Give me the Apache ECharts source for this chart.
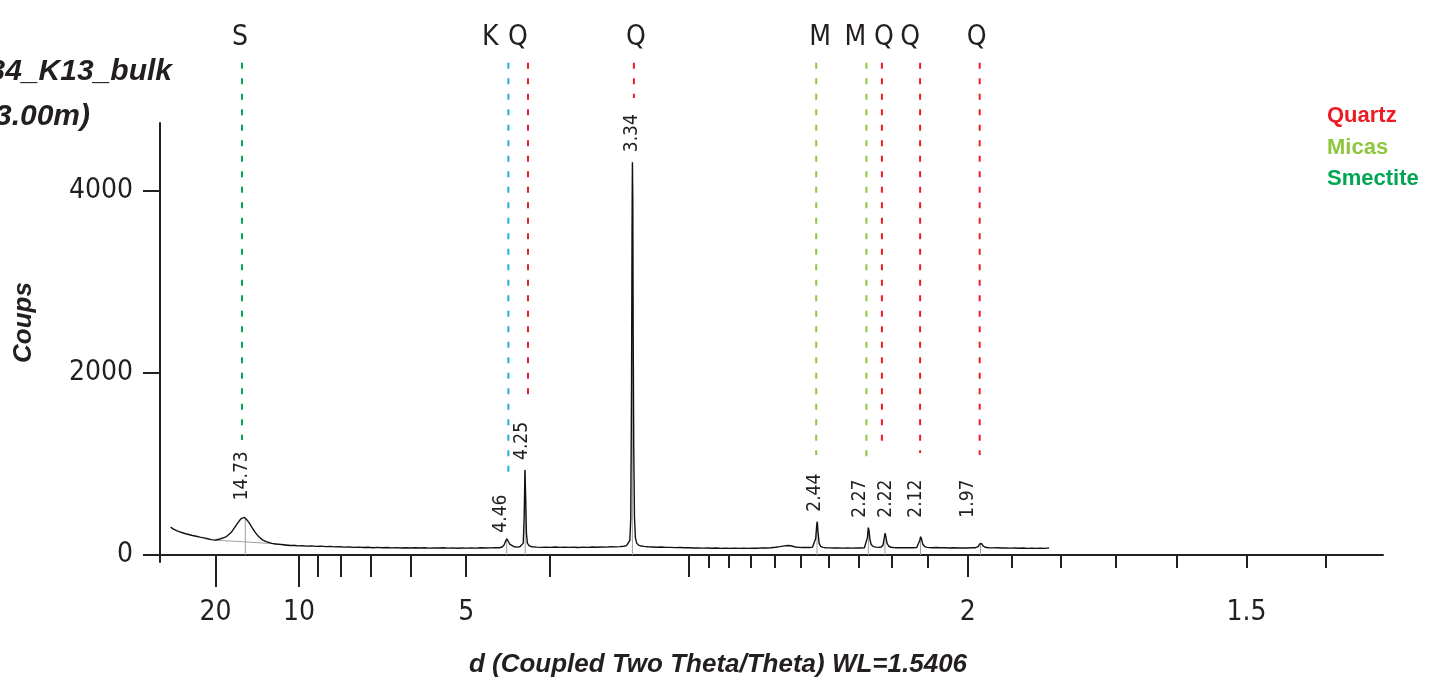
<!DOCTYPE html>
<html>
<head>
<meta charset="utf-8">
<title>K13 bulk</title>
<script src="https://cdn.jsdelivr.net/npm/echarts@6.0.0/dist/echarts.min.js"></script>
<style>
  html, body { margin: 0; padding: 0; background: #ffffff; }
  #chart { width: 1436px; height: 689px; }
</style>
</head>
<body>
<div id="chart"></div>
<script>
var WL = 1.5406; // Cu K-alpha

// ---- scan (2theta in degrees / counts) ----
var twoTheta = [
  2.05, 2.1, 2.2, 2.3, 2.4, 2.5, 2.6, 2.7, 2.8, 2.9,
  3.0, 3.1, 3.2, 3.3, 3.4, 3.5, 3.6, 3.7, 3.8, 3.9,
  4.0, 4.1, 4.2, 4.3, 4.4, 4.5, 4.6, 4.7, 4.8, 4.9,
  5.0, 5.1, 5.2, 5.3, 5.4, 5.5, 5.6, 5.7, 5.8, 5.9,
  5.95, 6.0, 6.1, 6.2, 6.3, 6.4, 6.5, 6.6, 6.7, 6.8,
  6.9, 7.0, 7.1, 7.2, 7.4, 7.6, 7.8, 8.0, 8.2, 8.4,
  8.6, 8.8, 9.0, 9.25, 9.5, 9.75, 10.0, 10.25, 10.5, 10.75,
  11.0, 11.25, 11.5, 11.75, 12.0, 12.25, 12.5, 12.75, 13.0, 13.25,
  13.5, 13.75, 14.0, 14.25, 14.5, 14.75, 15.0, 15.25, 15.5, 15.75,
  16.0, 16.25, 16.5, 16.75, 17.0, 17.25, 17.5, 17.75, 18.0, 18.25,
  18.5, 18.75, 19.0, 19.25, 19.5, 19.65, 19.75, 19.83, 19.9, 19.96,
  20.05, 20.15, 20.3, 20.45, 20.6, 20.7, 20.78, 20.83, 20.87, 20.91,
  20.95, 21.0, 21.1, 21.25, 21.5, 21.75, 22.0, 22.25, 22.5, 22.75,
  23.0, 23.25, 23.5, 23.75, 24.0, 24.25, 24.5, 24.75, 25.0, 25.25,
  25.5, 25.75, 26.0, 26.2, 26.35, 26.45, 26.53, 26.58, 26.62, 26.65,
  26.67, 26.69, 26.71, 26.74, 26.78, 26.83, 26.9, 27.0, 27.15, 27.3,
  27.5, 27.75, 28.0, 28.25, 28.5, 28.75, 29.0, 29.25, 29.5, 29.75,
  30.0, 30.25, 30.5, 30.75, 31.0, 31.25, 31.5, 31.75, 32.0, 32.25,
  32.5, 32.75, 33.0, 33.25, 33.5, 33.75, 34.0, 34.25, 34.5, 34.75,
  35.0, 35.2, 35.4, 35.6, 35.8, 36.0, 36.2, 36.4, 36.55, 36.65,
  36.73, 36.79, 36.82, 36.86, 36.92, 37.0, 37.15, 37.3, 37.5, 37.75,
  38.0, 38.25, 38.5, 38.75, 39.0, 39.25, 39.45, 39.55, 39.62, 39.67,
  39.71, 39.76, 39.83, 39.95, 40.1, 40.25, 40.4, 40.5, 40.57, 40.61,
  40.66, 40.72, 40.82, 40.95, 41.1, 41.3, 41.5, 41.75, 42.0, 42.2,
  42.4, 42.5, 42.57, 42.62, 42.67, 42.74, 42.85, 43.0, 43.25, 43.5,
  43.75, 44.0, 44.25, 44.5, 44.75, 45.0, 45.25, 45.5, 45.75, 45.9,
  45.98, 46.04, 46.1, 46.18, 46.3, 46.5, 46.75, 47.0, 47.25, 47.5,
  47.75, 48.0, 48.25, 48.5, 48.75, 49.0, 49.25, 49.5, 49.75, 50.0
];
var counts = [
  306, 300, 284, 277, 265, 258, 249, 240, 236, 228,
  225, 216, 214, 207, 205, 199, 196, 190, 188, 181,
  178, 171, 168, 161, 163, 166, 172, 178, 186, 192,
  202, 218, 238, 262, 292, 322, 352, 380, 402, 415,
  412, 402, 380, 352, 320, 285, 254, 226, 202, 182,
  166, 155, 146, 137, 128, 120, 116, 112, 107, 103,
  104, 100, 102, 97, 100, 95, 97, 92, 94, 89,
  91, 86, 88, 84, 86, 82, 85, 80, 83, 79,
  82, 78, 81, 77, 80, 76, 79, 76, 80, 75,
  78, 76, 79, 75, 78, 74, 77, 75, 78, 75,
  79, 76, 78, 80, 79, 88, 110, 150, 178, 160,
  120, 100, 90, 86, 90, 96, 130, 420, 933, 640,
  240, 130, 100, 90, 86, 84, 86, 83, 87, 84,
  86, 83, 85, 82, 86, 84, 87, 85, 88, 86,
  90, 89, 92, 96, 102, 115, 160, 400, 1800, 3600,
  4310, 3900, 2500, 1200, 420, 190, 130, 108, 98, 94,
  90, 88, 85, 87, 83, 84, 81, 82, 79, 80,
  77, 78, 75, 77, 74, 76, 73, 75, 72, 74,
  72, 74, 73, 75, 74, 78, 77, 80, 85, 92,
  100, 104, 98, 88, 84, 82, 84, 82, 86, 100,
  180, 330, 365, 250, 130, 95, 84, 80, 78, 76,
  78, 75, 77, 75, 78, 76, 80, 95, 190, 300,
  270, 170, 115, 92, 86, 84, 88, 110, 190, 238,
  200, 130, 96, 85, 82, 80, 81, 79, 80, 79,
  82, 95, 160, 200, 175, 120, 92, 84, 80, 82,
  79, 80, 77, 79, 76, 78, 76, 79, 80, 92,
  120, 138, 125, 100, 85, 80, 78, 79, 76, 78,
  75, 77, 74, 76, 73, 75, 72, 74, 73, 78
];

// fitted background under the 14.73 reflection
var bgTwoTheta = [4.4, 5.9, 7.4, 8.7];
var bgCounts = [162, 145, 125, 106];

// picked peaks (d in A / counts at top)
var peakD = [14.73, 4.46, 4.25, 3.34, 2.44, 2.27, 2.22, 2.12, 1.97];
var peakCounts = [414, 178, 933, 4310, 365, 300, 238, 200, 138];

// reference lines of the phases (d in A, letter, phase, counts where the dashes stop)
var refD = [15.17, 4.44, 4.22, 3.33, 2.443, 2.276, 2.229, 2.121, 1.972];
var refMark = ['S', 'K', 'Q', 'Q', 'M', 'M', 'Q', 'Q', 'Q'];
var refPhase = ['Smectite', 'Kaolinite', 'Quartz', 'Quartz', 'Micas', 'Micas', 'Quartz', 'Quartz', 'Quartz'];
var refEnd = [1262, 856, 1700, 5014, 1097, 1009, 1152, 1119, 1097];

// axis ticks (d in A)
var xLabelD = [20, 10, 5, 2, 1.5];
var bigTickD = [20, 10];
var midTickD = [9, 8, 7, 6, 5, 4, 3, 2];
var smallTickD = [2.9, 2.8, 2.7, 2.6, 2.5, 2.4, 2.3, 2.2, 2.1, 1.9, 1.8, 1.7, 1.6, 1.5, 1.4];
var yTicks = [0, 2000, 4000];

// ---------------------------------------------------------
var NARROW = "'Liberation Sans Narrow', 'Arial Narrow', 'DejaVu Sans Condensed', sans-serif";
var SANS = "'Liberation Sans', Arial, sans-serif";
var INK = '#231F20';
var phaseColor = { Quartz: '#ED1C24', Micas: '#8DC63F', Smectite: '#00A651', Kaolinite: '#27AAE1' };

// letter shift (px) against its dashed line, label shift for the peak values
var markShift = [-2, -18, -10, 2, 4, -11, 2, -10, -3];
var peakLabelDx = [-3, -6, -3, 0, -2, -8, 1, -4, -12];
var peakLabelGap = [17, -5, 10, 10, 10, 10, 10, 10, 10];
var LINE_TOP = 5400;
var X_MIN = (153 - 131.8) / 1672;
var X_MAX = (1383 - 131.8) / 1672;

// 2theta -> 1/d (the axis is linear in 1/d)
function inv(tt) { return 2 * Math.sin(tt / 2 * Math.PI / 180) / WL; }

var scan = twoTheta.map(function (t, i) { return [inv(t), counts[i]]; });
var bg = bgTwoTheta.map(function (t, i) { return [inv(t), bgCounts[i]]; });
function invList(arr) { return arr.map(function (d) { return 1 / d; }); }

function refSeries(phase) {
  var idx = [];
  refD.forEach(function (d, i) { if (refPhase[i] === phase) idx.push(i); });
  return {
    name: phase,
    type: 'custom',
    z: 4,
    itemStyle: { color: phaseColor[phase] },
    data: idx.map(function (i) { return [1 / refD[i], refEnd[i]]; }),
    renderItem: function (params, api) {
      var i = idx[params.dataIndex];
      var top = api.coord([api.value(0), LINE_TOP]);
      var end = api.coord([api.value(0), api.value(1)]);
      return {
        type: 'group',
        children: [{
          type: 'line',
          shape: { x1: top[0], y1: top[1], x2: end[0], y2: end[1] },
          style: { stroke: phaseColor[phase], lineWidth: 2, lineDash: [6, 9.5] }
        }, {
          type: 'text',
          x: top[0] + markShift[i],
          y: top[1] - 25,
          style: { text: refMark[i], fill: INK, font: '28px ' + NARROW, align: 'center', verticalAlign: 'middle' }
        }]
      };
    }
  };
}

// one x axis per tick length
function tickAxis(values, len) {
  return {
    type: 'value',
    position: 'bottom',
    min: X_MIN,
    max: X_MAX,
    offset: -7,
    axisLine: { show: false, onZero: false },
    axisTick: { customValues: invList(values), length: len, lineStyle: { color: INK, width: 2 } },
    axisLabel: { show: false },
    splitLine: { show: false }
  };
}

var chart = echarts.init(document.getElementById('chart'));

var option = {
  backgroundColor: '#ffffff',
  animation: false,
  grid: { left: 153, right: 53, top: 123, bottom: 127, containLabel: false },
  legend: {
    orient: 'vertical',
    left: 1317,
    top: 100,
    icon: 'none',
    itemWidth: 0,
    itemHeight: 14,
    itemGap: 9.5,
    selectedMode: false,
    textStyle: { fontSize: 22, fontWeight: 'bold', fontFamily: SANS, lineHeight: 22 },
    data: [
      { name: 'Quartz', textStyle: { color: phaseColor.Quartz } },
      { name: 'Micas', textStyle: { color: phaseColor.Micas } },
      { name: 'Smectite', textStyle: { color: phaseColor.Smectite } }
    ]
  },
  graphic: [
    { type: 'text', x: 172, y: 72, style: { text: '34_K13_bulk', fill: INK, font: 'italic bold 30px ' + SANS, align: 'right', verticalAlign: 'middle' } },
    { type: 'text', x: 90, y: 117, style: { text: '(3.00m)', fill: INK, font: 'italic bold 30px ' + SANS, align: 'right', verticalAlign: 'middle' } }
  ],
  xAxis: [{
    type: 'value',
    position: 'bottom',
    min: X_MIN,
    max: X_MAX,
    offset: -7,
    axisLine: { onZero: false, lineStyle: { color: INK, width: 2 } },
    axisTick: { customValues: invList(bigTickD), length: 32, lineStyle: { color: INK, width: 2 } },
    axisLabel: {
      customValues: invList(xLabelD),
      margin: 44,
      color: INK,
      fontSize: 28,
      fontFamily: NARROW,
      formatter: function (v) { return String(+(1 / v).toFixed(2)); }
    },
    splitLine: { show: false },
    name: 'd (Coupled Two Theta/Theta) WL=1.5406',
    nameLocation: 'middle',
    nameGap: 97,
    nameTextStyle: { color: INK, fontSize: 26, fontWeight: 'bold', fontStyle: 'italic', fontFamily: SANS, padding: [0, 100, 0, 0] }
  },
  tickAxis(midTickD, 22),
  tickAxis(smallTickD, 13)
  ],
  yAxis: {
    type: 'value',
    min: -77,
    max: 4740,
    offset: -7,
    axisLine: { show: true, onZero: false, lineStyle: { color: INK, width: 2 } },
    axisTick: { show: true, customValues: yTicks, length: 17, lineStyle: { color: INK, width: 2 } },
    axisLabel: {
      customValues: yTicks, margin: 27, color: INK, fontSize: 28, fontFamily: NARROW,
      formatter: function (v) { return String(v); }
    },
    splitLine: { show: false },
    name: 'Coups',
    nameLocation: 'middle',
    nameGap: 123,
    nameTextStyle: { color: INK, fontSize: 26, fontWeight: 'bold', fontStyle: 'italic', fontFamily: SANS, padding: [0, 0, 0, 40] }
  },
  series: [{
    name: 'background',
    type: 'line',
    data: bg,
    showSymbol: false,
    silent: true,
    z: 1,
    lineStyle: { color: '#a0a0a0', width: 1 }
  }, {
    name: 'peaks',
    type: 'custom',
    z: 1,
    silent: true,
    data: peakD.map(function (d, i) { return [1 / d, peakCounts[i]]; }),
    renderItem: function (params, api) {
      var i = params.dataIndex;
      var p = api.coord([api.value(0), api.value(1)]);
      var b = api.coord([api.value(0), 0]);
      var l = api.coord([api.value(0), Math.max(api.value(1), 300)]);
      return {
        type: 'group',
        children: [{
          type: 'line',
          shape: { x1: p[0], y1: p[1], x2: b[0], y2: b[1] },
          style: { stroke: '#a0a0a0', lineWidth: 1 }
        }, {
          type: 'text',
          x: l[0] + peakLabelDx[i],
          y: l[1] - peakLabelGap[i],
          rotation: Math.PI / 2,
          style: { text: peakD[i].toFixed(2), fill: INK, font: '19px ' + NARROW, align: 'left', verticalAlign: 'middle' }
        }]
      };
    }
  }, {
    name: 'scan',
    type: 'line',
    data: scan,
    showSymbol: false,
    z: 3,
    lineStyle: { color: '#111111', width: 1.4 }
  },
  refSeries('Smectite'),
  refSeries('Kaolinite'),
  refSeries('Quartz'),
  refSeries('Micas')
  ]
};

chart.setOption(option);
</script>
</body>
</html>
